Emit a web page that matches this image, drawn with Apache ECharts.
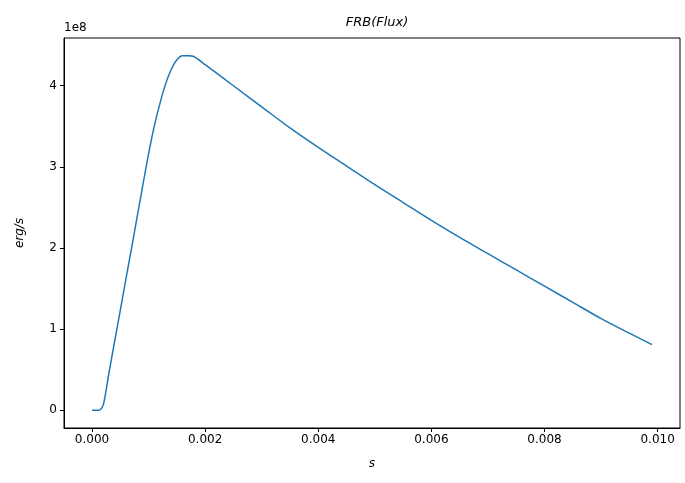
<!DOCTYPE html>
<html>
<head>
<meta charset="utf-8">
<script src="https://cdn.jsdelivr.net/npm/echarts@6/dist/echarts.min.js"></script>
<style>
  html, body { margin: 0; padding: 0; background: #fff; }
  #smoothChart { width: 685px; height: 483px; }
</style>
</head>
<body>
<div id="smoothChart"></div>
<script>
// time in seconds, flux in units of 1e8 erg/s
const times = [0, 0.0001, 0.00015, 0.0002, 0.00025, 0.0003, 0.0004, 0.0005, 0.0006, 0.0007, 0.0008, 0.0009, 0.001,
  0.0011, 0.0012, 0.0013, 0.0014, 0.0015, 0.0016, 0.0017, 0.0018, 0.002, 0.0025, 0.003, 0.0035, 0.004, 0.0045,
  0.005, 0.0055, 0.006, 0.0065, 0.007, 0.0075, 0.008, 0.0085, 0.009, 0.0095, 0.0099];
const flux = [0, 0, 0.01, 0.07, 0.25, 0.46, 0.85, 1.23, 1.62, 2.0, 2.39, 2.78, 3.16,
  3.5, 3.78, 4.02, 4.2, 4.32, 4.37, 4.37, 4.36, 4.26, 4.0, 3.74, 3.48, 3.24, 3.01,
  2.78, 2.56, 2.34, 2.13, 1.93, 1.73, 1.53, 1.33, 1.13, 0.95, 0.81];
const xTicks = [0, 0.002, 0.004, 0.006, 0.008, 0.010];
const yTicks = [0, 1, 2, 3, 4];

const chart = echarts.init(document.getElementById("smoothChart"));
const font = "DejaVu Sans";
chart.setOption({
  animation: false,
  title: {
    text: "FRB(Flux)",
    left: 372,
    textAlign: "center",
    top: 11,
    textStyle: { fontFamily: font, fontSize: 13, fontStyle: "italic", fontWeight: "normal", color: "#000" }
  },
  graphic: [{
    type: "text",
    left: 64,
    top: 22,
    style: { text: "1e8", fontFamily: font, fontSize: 12, fill: "#000" }
  }],
  grid: { left: 64, right: 5, top: 38, bottom: 55, show: true, borderColor: "#000", borderWidth: 1 },
  xAxis: {
    type: "value",
    min: -0.000495,
    max: 0.010395,
    name: "s",
    nameLocation: "middle",
    nameGap: 30,
    nameTextStyle: { fontFamily: font, fontSize: 12, fontStyle: "italic", color: "#000" },
    axisLine: { onZero: false, lineStyle: { color: "#000", width: 1 } },
    axisTick: { show: true, length: 4, customValues: xTicks, lineStyle: { color: "#000" } },
    axisLabel: {
      customValues: xTicks,
      fontFamily: font, fontSize: 12, color: "#000", margin: 6,
      formatter: v => v.toFixed(3)
    },
    splitLine: { show: false }
  },
  yAxis: {
    type: "value",
    min: -0.2185,
    max: 4.5885,
    name: "erg/s",
    nameLocation: "middle",
    nameGap: 38,
    nameTextStyle: { fontFamily: font, fontSize: 12, fontStyle: "italic", color: "#000" },
    axisLine: { show: true, onZero: false, lineStyle: { color: "#000", width: 1 } },
    axisTick: { show: true, length: 4, customValues: yTicks, lineStyle: { color: "#000" } },
    axisLabel: { customValues: yTicks, fontFamily: font, fontSize: 12, color: "#000", margin: 7 },
    splitLine: { show: false }
  },
  series: [{
    type: "line",
    data: times.map((t, i) => [t, flux[i]]),
    smooth: 0.3,
    showSymbol: false,
    lineStyle: { color: "#1f77b4", width: 1.5 }
  }]
});
</script>
</body>
</html>
